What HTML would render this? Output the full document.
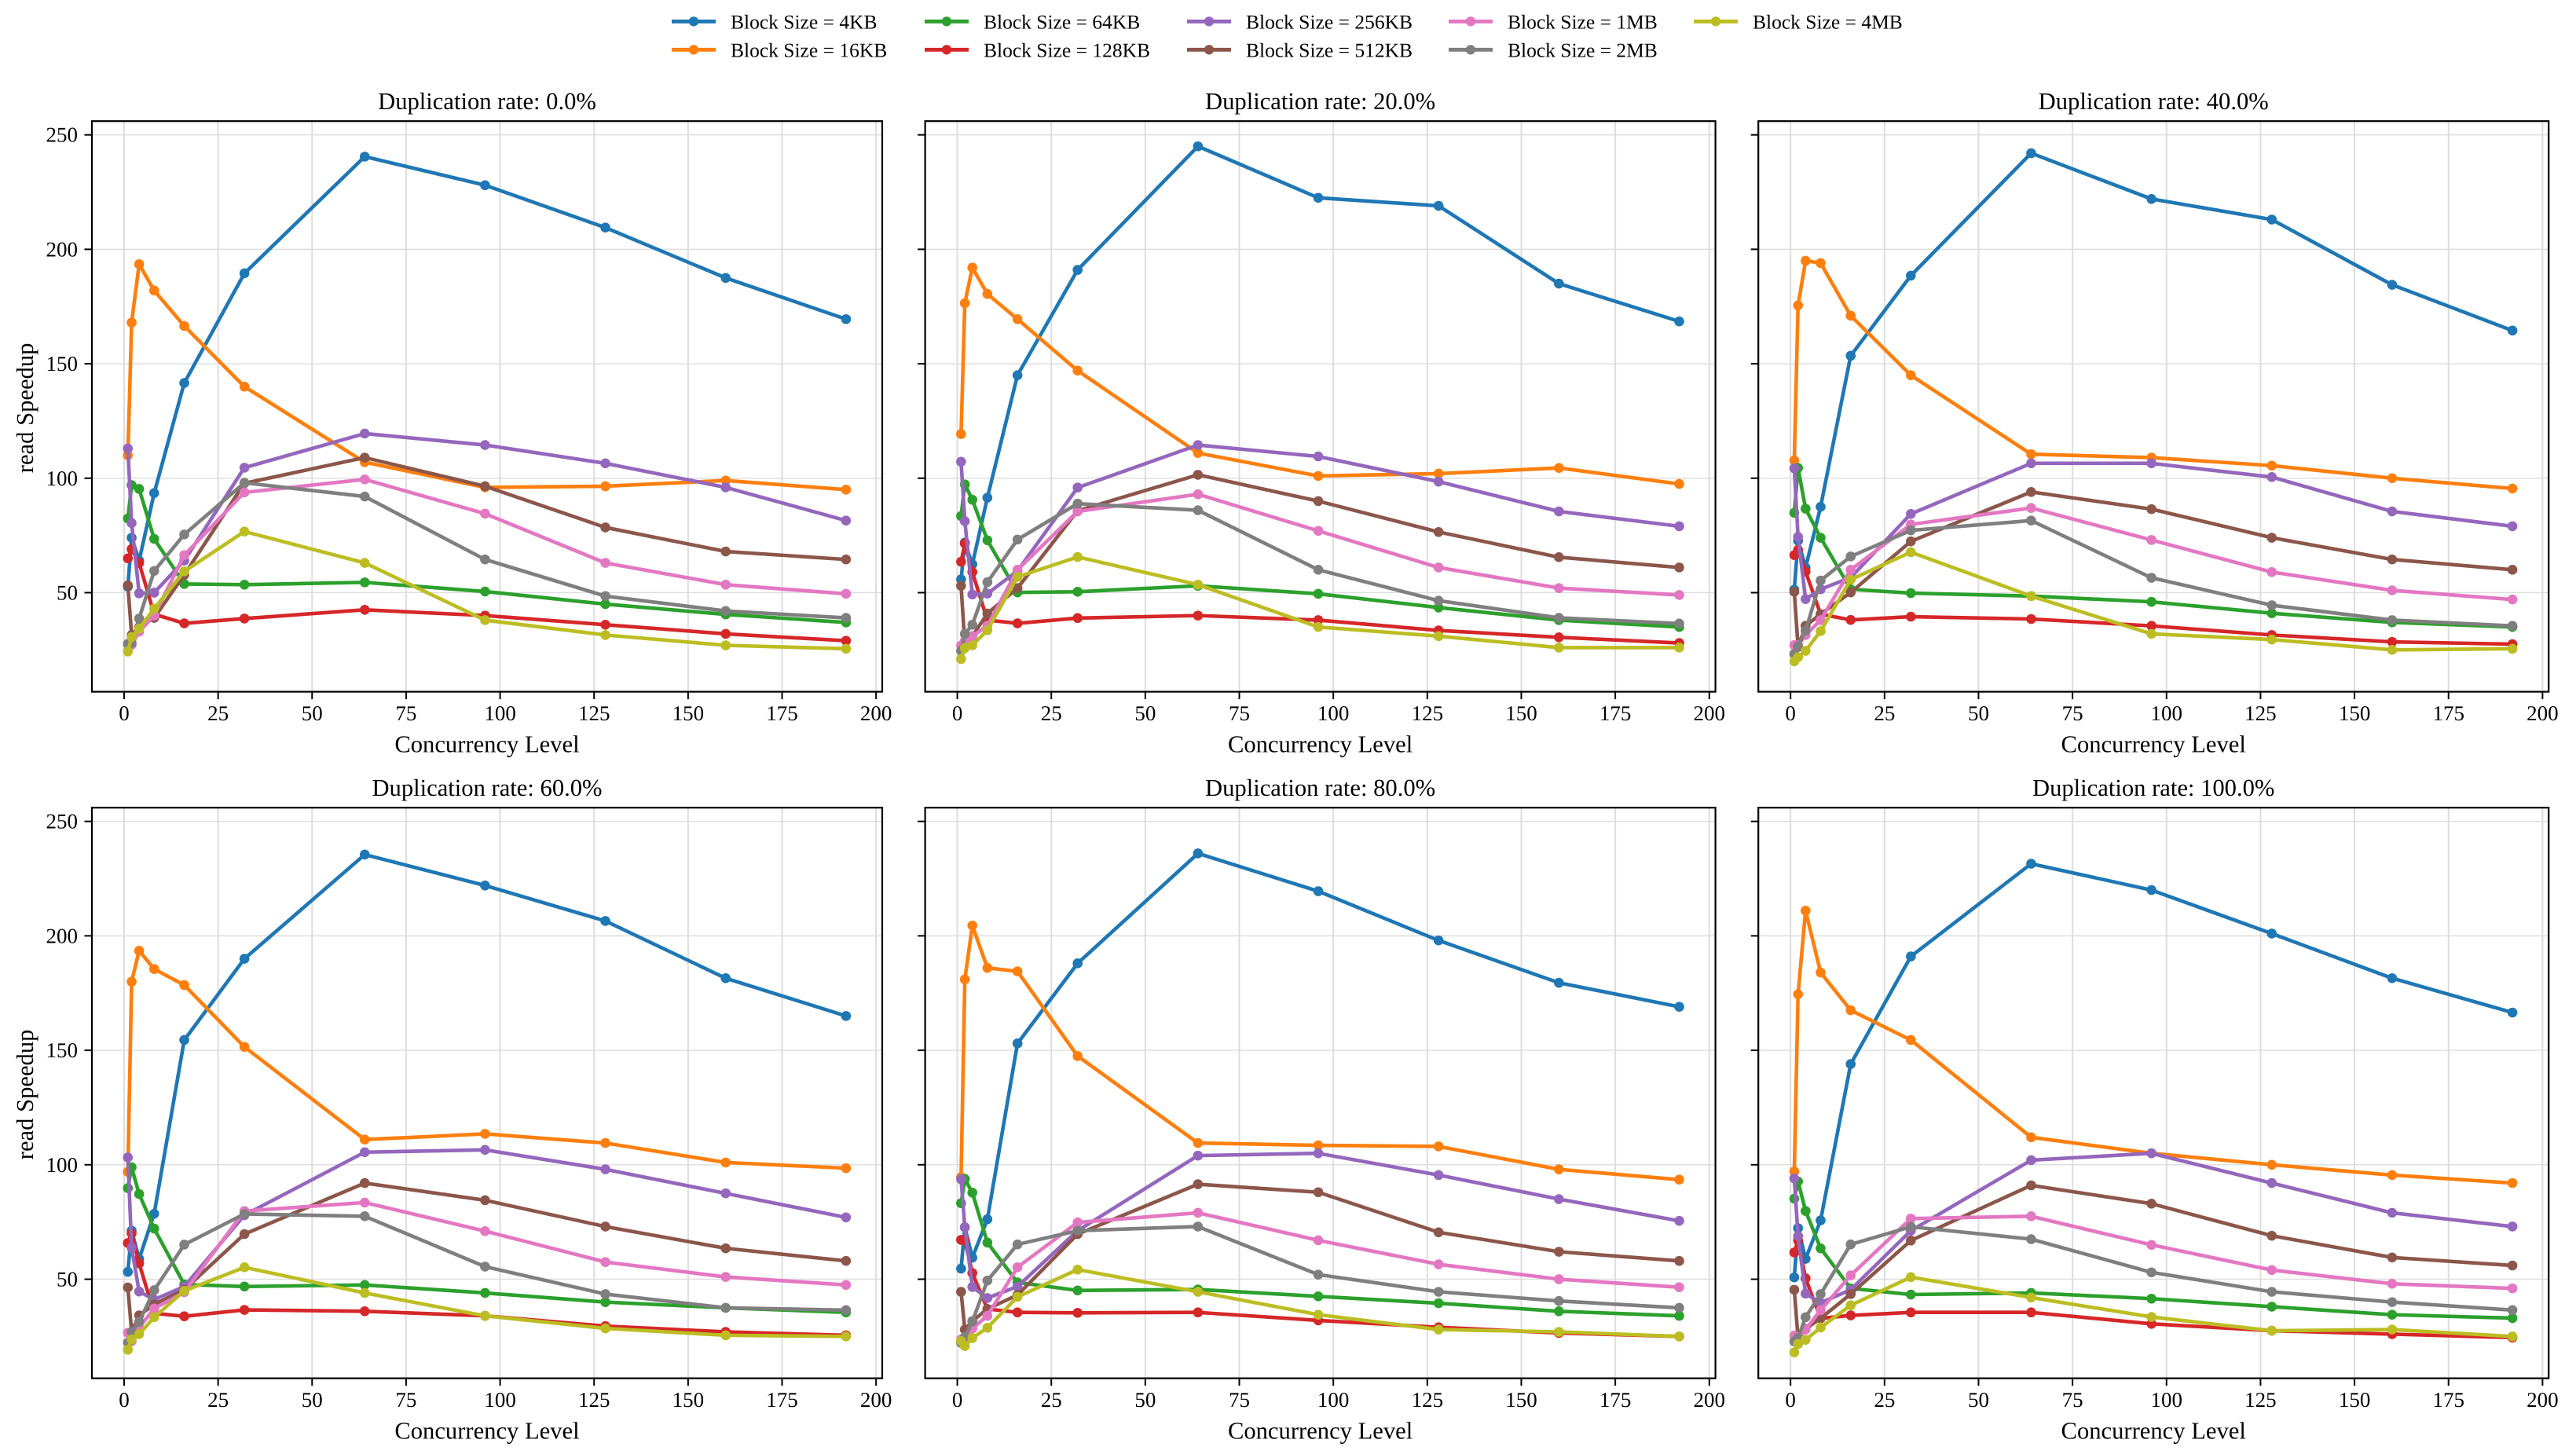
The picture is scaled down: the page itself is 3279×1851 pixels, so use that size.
<!DOCTYPE html>
<html lang="en">
<head>
<meta charset="utf-8">
<title>Read speedup by concurrency level and duplication rate</title>
<style>
html,body{margin:0;padding:0;background:#fff;}
svg{display:block;}
text{font-family:"Liberation Serif","DejaVu Serif",serif;fill:#000;text-rendering:geometricPrecision;}
</style>
</head>
<body>
<svg id="chart" xmlns="http://www.w3.org/2000/svg" width="3279" height="1851" viewBox="0 0 3279 1851">
<rect x="0" y="0" width="3279" height="1851" fill="#ffffff"/>
</svg>
<script>
const concurrency = [1, 2, 4, 8, 16, 32, 64, 96, 128, 160, 192];
const blockSizes = ['4KB', '16KB', '64KB', '128KB', '256KB', '512KB', '1MB', '2MB', '4MB'];
const duplicationRates = ['0.0', '20.0', '40.0', '60.0', '80.0', '100.0'];
const xTicks = [0, 25, 50, 75, 100, 125, 150, 175, 200];
const yTicks = [50, 100, 150, 200, 250];

const dup0 = [
  [52.6, 74, 64, 93.5, 141.6, 189.5, 240.5, 228, 209.5, 187.5, 169.5],
  [110, 168, 193.5, 182, 166.5, 140, 107, 96, 96.5, 99, 95],
  [82.4, 97, 95.3, 73.5, 53.8, 53.5, 54.5, 50.5, 45, 40.5, 37],
  [65, 69, 63, 40.6, 36.6, 38.7, 42.5, 40, 36, 32, 29],
  [113, 80.4, 49.7, 50, 64, 104.6, 119.5, 114.5, 106.5, 96, 81.5],
  [53.2, 31.5, 35, 39, 57.8, 97.8, 109, 96.5, 78.5, 68, 64.5],
  [27.7, 27.2, 33, 40, 66.4, 93.8, 99.5, 84.5, 63, 53.5, 49.5],
  [27.5, 28, 38.7, 59.5, 75.4, 98, 92, 64.5, 48.5, 42, 39],
  [24.3, 30.6, 34.3, 43, 59.3, 76.7, 63, 38, 31.5, 27, 25.5]
];
const dup20 = [
  [55.8, 71.9, 62.4, 91.5, 145, 191, 245, 222.5, 219, 185, 168.5],
  [119.3, 176.5, 192, 180.5, 169.5, 147, 111, 101, 102, 104.5, 97.5],
  [83.5, 97.3, 90.6, 72.9, 50.1, 50.4, 53, 49.5, 43.5, 38, 35],
  [63.5, 71.5, 59, 38, 36.6, 38.9, 40, 38, 33.5, 30.5, 28],
  [107.2, 81.2, 49.2, 49.6, 59.5, 95.9, 114.5, 109.5, 98.5, 85.5, 79],
  [53, 27.5, 31, 40.9, 52, 85.8, 101.5, 90, 76.5, 65.5, 61],
  [26.9, 29, 31, 35.5, 60, 85.5, 93, 77, 61, 52, 49],
  [24.6, 32, 36, 54.6, 73.2, 88.9, 86, 60, 46.5, 39, 36.5],
  [21, 25.8, 27, 33.6, 56.9, 65.6, 53.5, 35, 31, 26, 26]
];
const dup40 = [
  [51.3, 72.7, 60.9, 87.5, 153.5, 188.5, 242, 222, 213, 184.5, 164.5],
  [107.8, 175.5, 195, 194, 171, 145, 110.5, 109, 105.5, 100, 95.5],
  [84.9, 104.5, 86.7, 74, 51.5, 49.8, 48.5, 46, 41, 37, 35],
  [66.4, 68.7, 59.2, 40.6, 38.1, 39.5, 38.5, 35.5, 31.5, 28.5, 27.5],
  [104.3, 74.4, 47.2, 51.5, 56.6, 84.4, 106.5, 106.5, 100.5, 85.5, 79],
  [50.4, 26.3, 35.5, 40.6, 50.1, 72.4, 94, 86.5, 74, 64.5, 60],
  [27.1, 27, 31.5, 38, 60, 79.8, 87, 73, 59, 51, 47],
  [23.2, 26.6, 33.4, 55.3, 65.8, 77.2, 81.5, 56.5, 44.5, 38, 35.5],
  [20, 21.8, 24.6, 33.2, 55.7, 67.7, 48.5, 32, 29.5, 25, 25.5]
];
const dup60 = [
  [53.2, 71.2, 58.9, 78.6, 154.5, 190, 235.5, 222, 206.5, 181.5, 165],
  [96.9, 180, 193.5, 185.5, 178.5, 151.5, 111, 113.5, 109.5, 101, 98.5],
  [89.8, 98.9, 87.2, 72.1, 47.7, 46.8, 47.5, 44, 40, 37.5, 35.5],
  [65.8, 70, 56.9, 35.1, 33.8, 36.6, 36, 34, 29.5, 27, 25.5],
  [103.2, 63.7, 44.6, 41.1, 46.8, 78, 105.5, 106.5, 98, 87.5, 77],
  [46.4, 27, 34.2, 39, 45.4, 69.7, 92, 84.5, 73, 63.5, 58],
  [26.6, 22.9, 28.9, 37.2, 44.3, 79.8, 83.5, 71, 57.5, 51, 47.5],
  [22.3, 27, 31.4, 45.2, 65.1, 78.5, 77.5, 55.5, 43.5, 37.5, 36.5],
  [19.2, 23.7, 26, 33.4, 44.9, 55.2, 44, 34, 28.5, 25.5, 25]
];
const dup80 = [
  [54.6, 72.7, 59.4, 76.2, 153, 188, 236, 219.5, 198, 179.5, 169],
  [94.6, 181, 204.5, 186, 184.5, 147.5, 109.5, 108.5, 108, 98, 93.5],
  [83.2, 93.8, 87.8, 66, 48.6, 45.1, 45.5, 42.5, 39.5, 36, 34],
  [67.2, 67, 52.7, 37, 35.5, 35.3, 35.5, 32, 29, 26.5, 25],
  [93.7, 72.7, 46.6, 41.8, 46.8, 71.2, 104, 105, 95.5, 85, 75.5],
  [44.5, 28, 31.7, 37, 43.1, 69.7, 91.5, 88, 70.5, 62, 58],
  [23.7, 23, 28.5, 34, 55.2, 74.8, 79, 67, 56.5, 50, 46.5],
  [22.2, 24.8, 31.5, 49.4, 65.2, 71.2, 73, 52, 44.5, 40.5, 37.5],
  [23, 20.8, 24.3, 28.8, 42.3, 54.2, 44.5, 34.5, 28, 27, 25]
];
const dup100 = [
  [50.8, 72.3, 58.9, 75.7, 144, 191, 231.5, 220, 201, 181.5, 166.5],
  [97.1, 174.5, 211, 184, 167.5, 154.5, 112, 105, 100, 95.5, 92],
  [85.2, 92.7, 79.8, 63.5, 46, 43.3, 44, 41.5, 38, 34.5, 33],
  [61.7, 66.9, 50.4, 32.9, 34.2, 35.5, 35.5, 30.5, 27.5, 26, 24.5],
  [94, 68.9, 43.7, 39.7, 45.4, 71.2, 102, 105, 92, 79, 73],
  [45.4, 24.3, 28.3, 32.9, 43.5, 66.9, 91, 83, 69, 59.5, 56],
  [25.4, 23.7, 28, 36.5, 51.7, 76.5, 77.5, 65, 54, 48, 46],
  [22.8, 24.3, 33.4, 43.5, 65.2, 72.9, 67.5, 53, 44.5, 40, 36.5],
  [18, 21.7, 23.5, 28.9, 38.6, 50.9, 42, 33.5, 27.5, 28, 25]
];
const panelValues = [dup0, dup20, dup40, dup60, dup80, dup100];

const palette = ['#1f77b4', '#ff7f0e', '#2ca02c', '#d62728', '#9467bd', '#8c564b', '#e377c2', '#7f7f7f', '#bcbd22'];

const svgNS = 'http://www.w3.org/2000/svg';
const root = document.getElementById('chart');

function make(tag, attrs, parent, content) {
  const el = document.createElementNS(svgNS, tag);
  for (const k in attrs) el.setAttribute(k, attrs[k]);
  if (content !== undefined) el.textContent = content;
  parent.appendChild(el);
  return el;
}
function slug(s) {
  return s.toLowerCase().replace(/[^a-z0-9]+/g, '-');
}

const PANEL_W = 1006;
const PANEL_H = 726.4;
const STEP_X = 1060.6;
const STEP_Y = 874;
const LEFT0 = 117;
const TOP0 = 154.2;
const X_MIN = -8.56;
const PX_PER_X = 4.786;
const Y_MAX = 256;
const PX_PER_Y = 2.914;
const LINE_W = 4.6;
const MARKER_R = 6.3;

function drawPanel(idx) {
  const col = idx % 3;
  const row = Math.floor(idx / 3);
  const left = LEFT0 + col * STEP_X;
  const top = TOP0 + row * STEP_Y;
  const right = left + PANEL_W;
  const bottom = top + PANEL_H;
  const xScale = function (v) { return left + (v - X_MIN) * PX_PER_X; };
  const yScale = function (v) { return top + (Y_MAX - v) * PX_PER_Y; };

  const g = make('g', {}, root);
  
  

  const grid = make('g', { stroke: '#dddddd', fill: 'none' }, g);
  
  
  xTicks.forEach(function (t) {
    const gx = xScale(t);
    make('line', { x1: gx, x2: gx, y1: top, y2: bottom, 'stroke-width': 2 }, grid);
  });
  yTicks.forEach(function (t) {
    const gy = yScale(t);
    make('line', { x1: left, x2: right, y1: gy, y2: gy, 'stroke-width': 1.4 }, grid);
  });

  panelValues[idx].forEach(function (series, s) {
    const sg = make('g', {}, g);
    
    
    const pts = series.map(function (v, i) { return xScale(concurrency[i]) + ',' + yScale(v); }).join(' ');
    make('polyline', { points: pts, fill: 'none', stroke: palette[s], 'stroke-width': LINE_W, 'stroke-linejoin': 'round', 'stroke-linecap': 'square' }, sg);
    series.forEach(function (v, i) {
      const m = make('circle', { cx: xScale(concurrency[i]), cy: yScale(v), r: MARKER_R, fill: palette[s] }, sg);
      
      
    });
  });

  const frame = make('rect', { x: left, y: top, width: PANEL_W, height: PANEL_H, fill: 'none', stroke: '#000', 'stroke-width': 2.2 }, g);
  
  

  xTicks.forEach(function (t) {
    const tx = xScale(t);
    const tick = make('line', { x1: tx, x2: tx, y1: bottom, y2: bottom + 9.5, stroke: '#000', 'stroke-width': 2 }, g);
    
    
    const label = make('text', { x: tx, y: bottom + 36.5, 'font-size': 27, 'text-anchor': 'middle' }, g, String(t));
    
    
  });
  yTicks.forEach(function (t) {
    const ty = yScale(t);
    const tick = make('line', { x1: left - 9.5, x2: left, y1: ty, y2: ty, stroke: '#000', 'stroke-width': 2 }, g);
    
    
    if (col === 0) {
      const label = make('text', { x: left - 18, y: ty + 9, 'font-size': 27, 'text-anchor': 'end' }, g, String(t));
      
      
    }
  });

  const title = make('text', { x: (left + right) / 2, y: top - 15, 'font-size': 30.6, 'text-anchor': 'middle' }, g, 'Duplication rate: ' + duplicationRates[idx] + '%');
  
  

  const xTitle = make('text', { x: (left + right) / 2, y: bottom + 77, 'font-size': 30.6, 'text-anchor': 'middle' }, g, 'Concurrency Level');
  
  

  if (col === 0) {
    const yc = (top + bottom) / 2 + 2;
    const yTitle = make('text', { x: 42, y: yc, 'font-size': 30.6, 'text-anchor': 'middle', transform: 'rotate(-90 42 ' + yc + ')' }, g, 'read Speedup');
    
    
  }
}

function drawLegend() {
  const lg = make('g', {}, root);
  
  
  const colStarts = [855, 1177, 1511, 1844, 2156];
  const rowYs = [27.3, 63.3];
  blockSizes.forEach(function (b, i) {
    const c = Math.floor(i / 2);
    const r = i % 2;
    const x0 = colStarts[c];
    const y0 = rowYs[r];
    const entry = make('g', {}, lg);
    
    
    make('line', { x1: x0, x2: x0 + 56, y1: y0, y2: y0, stroke: palette[i], 'stroke-width': 4.8 }, entry);
    make('circle', { cx: x0 + 28, cy: y0, r: 6.2, fill: palette[i] }, entry);
    make('text', { x: x0 + 75, y: y0 + 9, 'font-size': 25.5 }, entry, 'Block Size = ' + b);
  });
}

panelValues.forEach(function (_, i) { drawPanel(i); });
drawLegend();
</script>
</body>
</html>
